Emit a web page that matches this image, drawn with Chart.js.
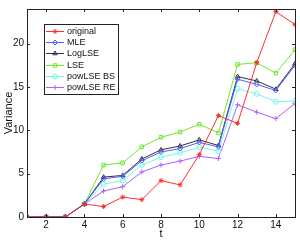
<!DOCTYPE html>
<html>
<head>
<meta charset="utf-8">
<script src="https://cdn.jsdelivr.net/npm/chart.js@4/dist/chart.umd.min.js"></script>
<style>
  html, body { margin: 0; padding: 0; background: #fff; }
  #wrap { width: 300px; height: 246px; }
</style>
</head>
<body>
<div id="wrap"><canvas id="myChart" width="300" height="246"></canvas></div>
<script>
var t = [1, 2, 3, 4, 5, 6, 7, 8, 9, 10, 11, 12, 13, 14, 15];
var original = [0, 0, 0, 1.5, 1.2, 2.3, 2.0, 4.2, 3.7, 7.2, 11.7, 10.8, 17.8, 23.7, 22.2];
var mle = [0, 0, 0, 1.5, 4.4, 4.7, 6.5, 7.5, 7.9, 8.6, 8.1, 15.9, 15.3, 14.6, 17.5];
var logLse = [0, 0, 0, 1.5, 4.6, 4.8, 6.7, 7.75, 8.2, 8.9, 8.25, 16.2, 15.7, 14.75, 17.7];
var lse = [0, 0, 0, 1.5, 6.0, 6.25, 8.1, 9.2, 9.8, 10.7, 9.7, 17.6, 17.8, 16.6, 19.3];
var powBS = [0, 0, 0, 1.5, 3.8, 4.2, 6.0, 6.9, 7.4, 8.05, 7.6, 14.8, 14.2, 13.3, 13.4];
var powRE = [0, 0, 0, 1.5, 3.0, 3.5, 5.2, 6.0, 6.45, 7.0, 6.75, 12.95, 12.1, 11.35, 13.1];
var xTicks = [2, 4, 6, 8, 10, 12, 14];
var yTicks = [0, 5, 10, 15, 20];

function pts(vals) {
    return vals.map(function (v, i) { return { x: t[i], y: v }; });
}

function series(label, vals, color, style) {
    return {
        label: label,
        data: pts(vals),
        borderColor: color,
        backgroundColor: 'rgba(0,0,0,0)',
        pointBorderColor: color,
        pointBackgroundColor: 'rgba(0,0,0,0)',
        pointStyle: style,
        pointRadius: 2.5,
        pointBorderWidth: 1,
        borderWidth: 1,
        tension: 0
    };
}

var datasets = [
    series('original', original, '#ff3030', 'star'),
    series('MLE', mle, '#5060ff', 'rectRot'),
    series('LogLSE', logLse, '#303040', 'triangle'),
    series('LSE', lse, '#70e830', 'rect'),
    series('powLSE BS', powBS, '#70f8e8', 'circle'),
    series('powLSE RE', powRE, '#b060ff', 'cross')
];

// MATLAB-like box with inward ticks and a legend inside the plot
var boxPlugin = {
    id: 'box',
    afterDraw: function (chart) {
        var ctx = chart.ctx, a = chart.chartArea;
        var xs = chart.scales.x, ys = chart.scales.y;
        ctx.save();
        ctx.strokeStyle = '#222';
        ctx.lineWidth = 1;
        ctx.strokeRect(Math.round(a.left) + 0.5, Math.round(a.top) + 0.5,
            Math.round(a.right - a.left), Math.round(a.bottom - a.top));
        ctx.beginPath();
        xTicks.forEach(function (v) {
            var px = Math.round(xs.getPixelForValue(v)) + 0.5;
            ctx.moveTo(px, a.bottom); ctx.lineTo(px, a.bottom - 3);
            ctx.moveTo(px, a.top); ctx.lineTo(px, a.top + 3);
        });
        yTicks.forEach(function (v) {
            var py = Math.round(ys.getPixelForValue(v)) + 0.5;
            ctx.moveTo(a.left, py); ctx.lineTo(a.left + 3, py);
            ctx.moveTo(a.right, py); ctx.lineTo(a.right - 3, py);
        });
        ctx.stroke();

        // legend
        var lx = 44, ly = 24, lw = 74, lh = 70;
        ctx.fillStyle = '#fff';
        ctx.fillRect(lx, ly, lw, lh);
        ctx.strokeStyle = '#222';
        ctx.strokeRect(lx + 0.5, ly + 0.5, lw, lh);
        ctx.font = '9px "Liberation Sans", Arial, sans-serif';
        ctx.textBaseline = 'middle';
        datasets.forEach(function (d, i) {
            var y = Math.round(ly + 7 + i * 11.2) + 0.5;
            ctx.strokeStyle = d.borderColor;
            ctx.lineWidth = 1;
            ctx.beginPath();
            ctx.moveTo(lx + 2, y);
            ctx.lineTo(lx + 20, y);
            ctx.stroke();
            ctx.fillStyle = 'rgba(0,0,0,0)';
            Chart.helpers.drawPoint(ctx, {
                pointStyle: d.pointStyle, radius: 2.5, borderWidth: 1, rotation: 0
            }, lx + 11, y);
            ctx.fillStyle = '#111';
            ctx.fillText(d.label, lx + 23, y);
        });
        ctx.restore();
    }
};

var myChart = document.getElementById('myChart');
var chart = new Chart(myChart, {
    type: 'line',
    data: { datasets: datasets },
    options: {
        responsive: false,
        animation: false,
        layout: { padding: { top: 4, right: 4, left: 0, bottom: 0 } },
        plugins: { legend: { display: false }, tooltip: { enabled: false } },
        scales: {
            x: {
                type: 'linear', min: 1, max: 15,
                afterBuildTicks: function (s) { s.ticks = xTicks.map(function (v) { return { value: v }; }); },
                afterFit: function (s) { s.height = 29; },
                grid: { display: false, drawTicks: false },
                border: { display: false },
                ticks: { color: '#111', padding: 2, maxRotation: 0, font: { size: 10, family: '"Liberation Sans", Arial, sans-serif' } },
                title: { display: true, text: 't', color: '#111', padding: { top: 0, bottom: 5 }, font: { size: 11, family: '"Liberation Sans", Arial, sans-serif' } }
            },
            y: {
                min: 0, max: 24,
                afterBuildTicks: function (s) { s.ticks = yTicks.map(function (v) { return { value: v }; }); },
                afterFit: function (s) { s.width = 27; },
                grid: { display: false, drawTicks: false },
                border: { display: false },
                ticks: { color: '#111', padding: 3, font: { size: 10, family: '"Liberation Sans", Arial, sans-serif' } },
                title: { display: true, text: 'Variance', color: '#111', padding: { top: 2, bottom: 0 }, font: { size: 11, family: '"Liberation Sans", Arial, sans-serif' } }
            }
        }
    },
    plugins: [boxPlugin]
});
</script>
</body>
</html>
